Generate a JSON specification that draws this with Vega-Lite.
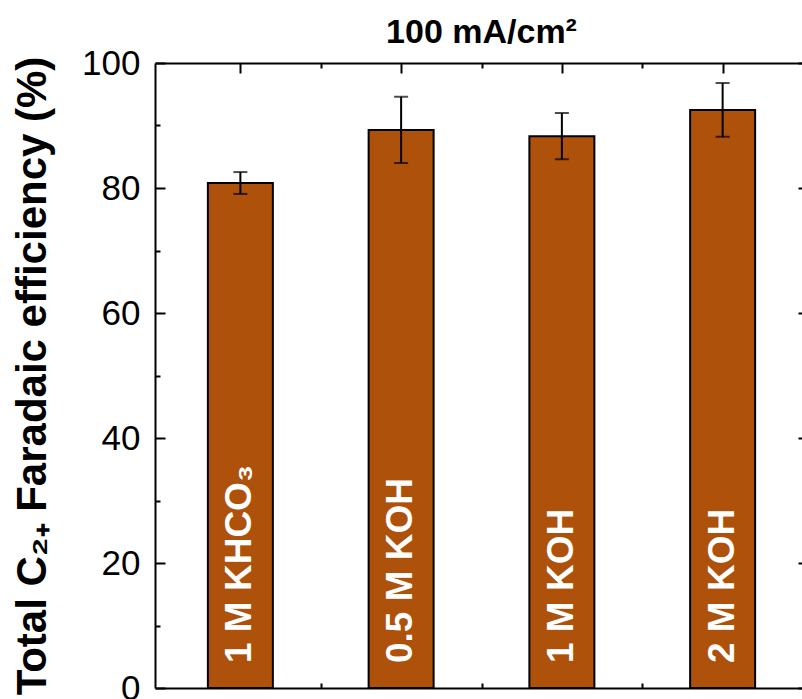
{
  "$schema": "https://vega.github.io/schema/vega-lite/v6.json",
  "width": 653,
  "height": 625,
  "autosize": {"type": "none"},
  "padding": {"left": 155, "top": 63, "right": 0, "bottom": 11},
  "background": "white",
  "config": {
    "view": {"stroke": null},
    "font": "Liberation Sans",
    "axis": {"grid": false, "domainColor": "black", "domainWidth": 2, "tickColor": "black", "tickWidth": 2}
  },
  "title": {"text": "100 mA/cm²", "font": "Liberation Sans", "fontSize": 34, "fontWeight": "bold", "color": "black", "offset": -4, "anchor": "middle"},
  "data": {"values": [
    {"pos": 1, "label": "1 M KHCO₃", "fe": 80.8, "err": 1.75},
    {"pos": 2, "label": "0.5 M KOH", "fe": 89.3, "err": 5.3},
    {"pos": 3, "label": "1 M KOH", "fe": 88.3, "err": 3.7},
    {"pos": 4, "label": "2 M KOH", "fe": 92.5, "err": 4.3}
  ]},
  "resolve": {"axis": {"x": "independent", "y": "independent"}},
  "layer": [
    {
      "mark": {"type": "bar", "width": 65, "color": "#AE510A", "stroke": "black", "strokeWidth": 2},
      "encoding": {
        "x": {"field": "pos", "type": "quantitative", "scale": {"domain": [0.5, 4.5], "nice": false, "zero": false},
              "axis": {"orient": "bottom", "values": [1, 1.5, 2, 2.5, 3, 3.5, 4], "labels": false, "title": null,
                       "tickSize": {"condition": {"test": "datum.value % 1 === 0", "value": -10}, "value": -5}}},
        "y": {"field": "fe", "type": "quantitative", "scale": {"domain": [0, 100], "nice": false},
              "axis": {"orient": "left", "values": [0, 10, 20, 30, 40, 50, 60, 70, 80, 90, 100],
                       "tickSize": {"condition": {"test": "datum.value % 20 === 0", "value": -10}, "value": -5},
                       "labelExpr": "datum.value % 20 === 0 ? datum.label : ''",
                       "labelFont": "Liberation Sans", "labelFontSize": 35, "labelColor": "black", "labelPadding": 25,
                       "labelFlush": false, "labelOverlap": false,
                       "title": "Total C₂₊ Faradaic efficiency (%)", "titleFont": "Liberation Sans", "titleFontSize": 42,
                       "titleFontWeight": "bold", "titleColor": "black", "titlePadding": 27}}
      }
    },
    {
      "mark": {"type": "errorbar", "ticks": {"size": 14, "thickness": 2, "color": "black"}, "rule": {"strokeWidth": 2, "color": "black"}},
      "encoding": {
        "x": {"field": "pos", "type": "quantitative",
              "axis": {"orient": "top", "values": [1, 1.5, 2, 2.5, 3, 3.5, 4], "labels": false, "title": null,
                       "tickSize": {"condition": {"test": "datum.value % 1 === 0", "value": -10}, "value": -5}}},
        "y": {"field": "fe", "type": "quantitative",
              "axis": {"orient": "right", "values": [0, 10, 20, 30, 40, 50, 60, 70, 80, 90, 100], "labels": false, "title": null,
                       "tickSize": {"condition": {"test": "datum.value % 20 === 0", "value": -10}, "value": -5}}},
        "yError": {"field": "err"}
      }
    },
    {
      "mark": {"type": "text", "angle": 270, "align": "left", "baseline": "middle", "dx": 25, "font": "Liberation Sans", "fontSize": 37, "fontWeight": "bold", "color": "white"},
      "encoding": {
        "x": {"field": "pos", "type": "quantitative", "axis": null},
        "y": {"datum": 0, "type": "quantitative", "axis": null},
        "text": {"field": "label"}
      }
    }
  ]
}
